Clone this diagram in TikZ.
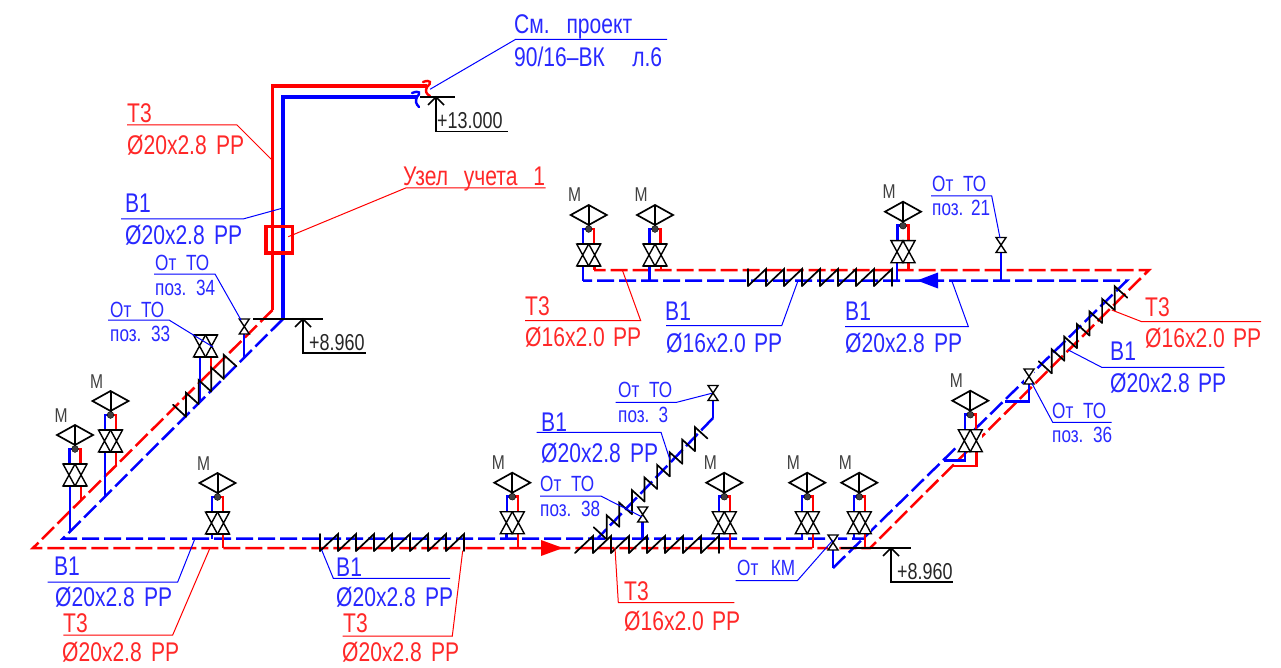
\documentclass[tikz,border=0pt]{standalone}
\usepackage{fontspec}
\setmainfont[FakeStretch=0.78]{Liberation Sans}
\usetikzlibrary{positioning}

\definecolor{pipered}{RGB}{255,0,0}
\definecolor{pipeblue}{RGB}{0,0,255}
\definecolor{textred}{RGB}{255,40,40}
\definecolor{textblue}{RGB}{40,40,255}

\tikzset{
  redpipe/.style = {draw=pipered, line width=2.5pt},
  bluepipe/.style = {draw=pipeblue, line width=2.5pt},
  riserred/.style = {draw=pipered, line width=3.4pt},
  riserblue/.style = {draw=pipeblue, line width=3.4pt},
  redmain/.style = {redpipe, dash pattern=on 17pt off 5pt},
  bluemain/.style = {bluepipe, dash pattern=on 17pt off 5pt},
  saw/.style = {draw=black, line width=1.7pt, line cap=round},
  valvebody/.style = {draw=black, line width=1.4pt},
  redlead/.style = {draw=pipered, line width=1pt},
  bluelead/.style = {draw=pipeblue, line width=1pt},
  levelline/.style = {draw=black, line width=1.7pt},
  redbig/.style = {text=textred, anchor=base west, inner sep=0pt, font=\fontsize{27}{27}\selectfont},
  bluebig/.style = {text=textblue, anchor=base west, inner sep=0pt, font=\fontsize{27}{27}\selectfont},
  bluesmall/.style = {text=textblue, anchor=base west, inner sep=0pt, font=\fontsize{22}{22}\selectfont},
  leveltext/.style = {text=black!85, anchor=base west, inner sep=0pt, font=\fontsize{23}{23}\selectfont},
  gaugetext/.style = {text=black!75, anchor=base, inner sep=0pt, font=\fontsize{20}{20}\selectfont},
  pics/halfvalve/.style = {code = {
    \fill[white] (-5,0) rectangle (5,15);
    \draw[valvebody] (-5,0) -- (5,0) -- (-5,15) -- (5,15) -- cycle;
  }},
  pics/twinvalve/.style = {code = {
    \fill[white] (-12,0) rectangle (12,22);
    \draw[valvebody] (-12,0) -- (0,22) -- (-12,22) -- (0,0) -- cycle;
    \draw[valvebody] (0,0) -- (12,22) -- (0,22) -- (12,0) -- cycle;
    \draw[valvebody] (-12,0) -- (12,0) (-12,22) -- (12,22);
  }},
  pics/gauge/.style = {code = {
    \draw[bluepipe] (0,0) -- (-5.5,0) -- (-5.5,15);
    \draw[redpipe] (0,0) -- (5.5,0) -- (5.5,15);
    \pic at (0,15) {twinvalve};
    \draw[draw=black, line width=1.7pt] (-18,-14) -- (0,-24) -- (18,-14) -- (0,-4) -- cycle;
    \draw[draw=black, line width=2pt] (0,-24) -- (0,0);
    \fill[black!75, draw=black] (0,0) circle (3.4);
    \node[gaugetext] (-m) at (-14,-27) {М};
  }},
}

% text of a fixed width, the spaces take up the rest
\newcommand{\fitted}[2]{\makebox[#1pt][s]{#2}}
% sawtooth on a straight run, eight teeth
\newcommand{\sawflat}[2]{
  \foreach \k in {0,...,7}
    \draw[saw] ({#1+18*\k},#2) -- ++(18,-17) -- ++(0,17);
}
% sawtooth on a 45 degree run
\newcommand{\sawrise}[3]{
  \draw[saw] ({#1-13},{#2-12}) -- (#1,#2);
  \foreach \k in {1,...,#3}
    \draw[saw] ({#1+12.6*(\k-1)},{#2-12.6*(\k-1)}) -- ++(0,-24) -- ++(12.6,11.4);
}

\begin{document}
\begin{tikzpicture}[x=1pt, y=-1pt, line cap=butt]
  \useasboundingbox (0,0) rectangle (1281,668);

  % risers
  \draw[riserred] (427,86) -- (272.5,86) -- (272.5,310);
  \draw[riserblue] (417,97) -- (283,97) -- (283,319);
  \draw[draw=pipered, line width=2.4pt, line cap=round] (423,82) .. controls (431,79) and (432,83) .. (427,87) .. controls (425,91) and (426,94) .. (430,96);
  \draw[draw=pipeblue, line width=2.4pt, line cap=round] (412,93) .. controls (420,90) and (421,93) .. (417,97) .. controls (415,101) and (416,104) .. (419,107);
  \draw[draw=pipered, line width=3.4pt] (266,226.7) rectangle (292.3,253);

  % mains
  \draw[redmain] (272.5,310) -- (33,548) -- (870,548) -- (1149,270) -- (594,270);
  \draw[bluemain] (283,319) -- (63,538.5) -- (865,538.5);
  \draw[bluemain] (833,568) -- (1127,280.5) -- (583,280.5);
  \draw[bluepipe] (713,400) -- (713,418);
  \draw[bluemain] (713,418) -- (598,538);

  % legs to the mains
  \draw[bluepipe] (70,486) -- (70,532);
  \draw[redpipe] (81,486) -- (81,501);
  \draw[bluepipe] (105,451) -- (105,497);
  \draw[redpipe] (116,451) -- (116,466);
  \draw[bluepipe] (212,533) -- (212,538.5);
  \draw[redpipe] (223,533) -- (223,548);
  \draw[bluepipe] (506.7,533) -- (506.7,538.5);
  \draw[redpipe] (518,533) -- (518,548);
  \draw[bluepipe] (719,533) -- (719,538.5);
  \draw[redpipe] (730,533) -- (730,548);
  \draw[bluepipe] (802,533) -- (802,538.5);
  \draw[redpipe] (813,533) -- (813,548);
  \draw[bluepipe] (854,533) -- (854,538.5);
  \draw[redpipe] (865,533) -- (865,548);
  \draw[bluepipe] (583,265) -- (583,280.5);
  \draw[redpipe] (594.5,265) -- (594.5,270);
  \draw[bluepipe] (649.5,265) -- (649.5,280.5);
  \draw[redpipe] (661,265) -- (661,270);
  \draw[bluepipe] (897,262) -- (897,280.5);
  \draw[redpipe] (908.7,262) -- (908.7,270);
  \draw[bluepipe] (965,451) -- (965,460.7) -- (944,460.7);
  \draw[redpipe] (976.3,451) -- (976.3,466) -- (953.3,466);
  \draw[bluepipe] (200,356) -- (200,403);
  \draw[redpipe] (211,356) -- (211,372);
  \draw[bluepipe] (244,334) -- (244,358);
  \draw[bluepipe] (1001,252) -- (1001,280.5);
  \draw[bluepipe] (642.7,522) -- (642.7,538.5);
  \draw[bluepipe] (1029,384) -- (1029,401.7) -- (1005,401.7);
  \draw[bluepipe] (833,550) -- (833,568);

  % flow arrows
  \fill[pipered] (563,548) -- (541,540) -- (541,556) -- cycle;
  \fill[pipeblue] (917,280.5) -- (938,272.5) -- (938,288.5) -- cycle;

  % sawteeth
  \draw[saw] (320,534) -- (320,551);
  \sawflat{320}{551}
  \sawflat{575}{553}
  \draw[saw] (748,269) -- (748,286);
  \sawflat{748}{286}
  \sawrise{186}{416.7}{4}
  \sawrise{606.7}{539.3}{8}
  \sawrise{1051.7}{373.3}{6}

  % gauges
  \pic (g1) at (75,449) {gauge};
  \pic (g2) at (110.5,415) {gauge};
  \pic (g3) at (217.5,497) {gauge};
  \pic (g4) at (588.7,229) {gauge};
  \pic (g5) at (655,229) {gauge};
  \pic (g6) at (903,225.7) {gauge};
  \pic (g7) at (512.3,496.7) {gauge};
  \pic (g8) at (724.3,496.7) {gauge};
  \pic (g9) at (807.3,496.7) {gauge};
  \pic (g10) at (859.3,496.7) {gauge};
  \pic (g11) at (970.3,414.7) {gauge};

  % valves without gauge
  \pic at (205.5,335) {twinvalve};
  \pic at (244.3,319) {halfvalve};
  \pic at (1001,237.5) {halfvalve};
  \pic at (713,385.5) {halfvalve};
  \pic at (642.7,507) {halfvalve};
  \pic at (1029,369) {halfvalve};
  \pic at (833,535) {halfvalve};

  % levels
  \draw[levelline] (420,97) -- (455,97);
  \draw[levelline] (428,105) -- (436,97) -- (444,105);
  \draw[levelline] (436,97) -- (436,131.5) -- (508,131.5);
  \node[leveltext] (lev1) at (437,128.5) {+13.000};
  \draw[levelline] (253,319) -- (323,319);
  \draw[levelline] (295,327) -- (303,319) -- (311,327);
  \draw[levelline] (303,319) -- (303,353) -- (366,353);
  \node[leveltext] (lev2) at (309,350) {+8.960};
  \draw[levelline] (841,548) -- (911,548);
  \draw[levelline] (883,556) -- (891,548) -- (899,556);
  \draw[levelline] (891,548) -- (891,582) -- (953,582);
  \node[leveltext] (lev3) at (897,579) {+8.960};

  % leaders and labels
  \draw[bluelead] (667,39.3) -- (515.7,39.3) -- (430,89.3);
  \node[bluebig] (t1) at (514,33.5) {\fitted{118}{См. проект}};
  \node[bluebig] (t2) at (514,67) {\fitted{148}{90/16--ВК л.6}};

  \draw[redlead] (545.7,188) -- (405.7,188) -- (288.3,236.7);
  \node[redbig] (t3) at (403,186) {\fitted{142}{Узел учета 1}};

  \draw[redlead] (127,125) -- (237,125) -- (273,161);
  \node[redbig] (t4) at (127,123) {Т3};
  \node[redbig] (t5) at (127,155) {\fitted{117}{Ø20x2.8 РР}};

  \draw[bluelead] (121,219) -- (243,219) -- (283,208);
  \node[bluebig] (t6) at (125,213) {В1};
  \node[bluebig] (t7) at (125,244) {\fitted{117}{Ø20x2.8 РР}};

  \draw[bluelead] (108,320) -- (169,320) -- (213,347);
  \node[bluesmall] (t8) at (110,317) {\fitted{54}{От ТО}};
  \node[bluesmall] (t9) at (110,341) {\fitted{60}{поз. 33}};
  \draw[bluelead] (154,274) -- (215,274) -- (241,320);
  \node[bluesmall] (t10) at (155,270) {\fitted{54}{От ТО}};
  \node[bluesmall] (t11) at (155,295) {\fitted{60}{поз. 34}};

  \draw[redlead] (525,320.7) -- (640.7,320.7) -- (622.3,270);
  \node[redbig] (t12) at (525,315) {Т3};
  \node[redbig] (t13) at (525,346.7) {\fitted{116}{Ø16x2.0 РР}};
  \draw[bluelead] (666,325.7) -- (781.7,325.7) -- (798,280.7);
  \node[bluebig] (t14) at (665,320) {В1};
  \node[bluebig] (t15) at (666,352) {\fitted{116}{Ø16x2.0 РР}};
  \draw[bluelead] (845,326.5) -- (968.3,326.5) -- (951.7,280.5);
  \node[bluebig] (t16) at (845,320) {В1};
  \node[bluebig] (t17) at (845,352) {\fitted{117}{Ø20x2.8 РР}};

  \draw[bluelead] (931,196) -- (991.7,196) -- (1000,238);
  \node[bluesmall] (t18) at (932,192) {\fitted{54}{От ТО}};
  \node[bluesmall] (t19) at (932,216) {\fitted{58}{поз. 21}};

  \draw[redlead] (1261,321.7) -- (1141.7,321.7) -- (1111.7,310);
  \node[redbig] (t20) at (1145,316.7) {Т3};
  \node[redbig] (t21) at (1145,347) {\fitted{116}{Ø16x2.0 РР}};
  \draw[bluelead] (1224.3,367.3) -- (1101.7,367.3) -- (1068.3,350);
  \node[bluebig] (t22) at (1110,360.7) {В1};
  \node[bluebig] (t23) at (1110,392) {\fitted{116}{Ø20x2.8 РР}};
  \draw[bluelead] (1111.7,422.3) -- (1052.7,422.3) -- (1031.7,383);
  \node[bluesmall] (t24) at (1052,418) {\fitted{54}{От ТО}};
  \node[bluesmall] (t25) at (1052,442) {\fitted{60}{поз. 36}};

  \draw[bluelead] (615.7,402.3) -- (676.7,402.3) -- (711.7,393.3);
  \node[bluesmall] (t26) at (618,397) {\fitted{54}{От ТО}};
  \node[bluesmall] (t27) at (618,422) {\fitted{50}{поз. 3}};
  \draw[bluelead] (536.7,432.3) -- (661,432.3) -- (670,460);
  \node[bluebig] (t28) at (541,431) {В1};
  \node[bluebig] (t29) at (541,462) {\fitted{117}{Ø20x2.8 РР}};
  \draw[bluelead] (540,496) -- (600.7,496) -- (641.7,516.7);
  \node[bluesmall] (t30) at (540,491) {\fitted{54}{От ТО}};
  \node[bluesmall] (t31) at (540,516) {\fitted{60}{поз. 38}};

  \draw[redlead] (734.3,602.7) -- (618.3,602.7) -- (615,548);
  \node[redbig] (t32) at (624,600) {Т3};
  \node[redbig] (t33) at (624,630) {\fitted{116}{Ø16x2.0 РР}};

  \draw[bluelead] (735.7,580.7) -- (797.3,580.7) -- (833,540);
  \node[bluesmall] (t34) at (737,575) {\fitted{58}{От КМ}};

  \draw[bluelead] (47.7,582) -- (177.7,582) -- (195,538.5);
  \node[bluebig] (t35) at (54,575) {В1};
  \node[bluebig] (t36) at (55,606) {\fitted{117}{Ø20x2.8 РР}};
  \draw[redlead] (63.3,635) -- (172.7,635) -- (210,548);
  \node[redbig] (t37) at (63,632) {Т3};
  \node[redbig] (t38) at (62,661) {\fitted{117}{Ø20x2.8 РР}};

  \draw[bluelead] (450,578.3) -- (333.3,578.3) -- (321.7,550);
  \node[bluebig] (t39) at (336,576) {В1};
  \node[bluebig] (t40) at (336,606) {\fitted{117}{Ø20x2.8 РР}};
  \draw[redlead] (342.7,636) -- (452.3,636) -- (462.7,550.7);
  \node[redbig] (t41) at (343,632) {Т3};
  \node[redbig] (t42) at (342,661) {\fitted{117}{Ø20x2.8 РР}};
\end{tikzpicture}
\end{document}
